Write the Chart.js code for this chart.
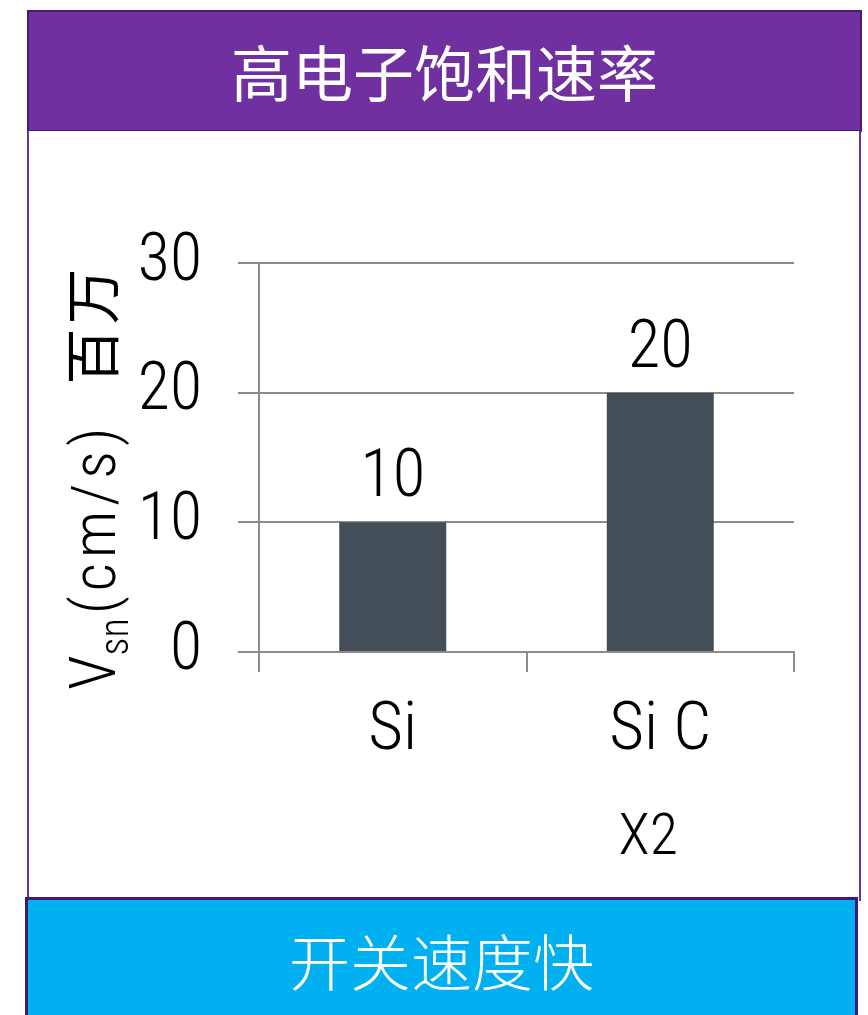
<!DOCTYPE html>
<html>
<head>
<meta charset="utf-8">
<script src="https://cdn.jsdelivr.net/npm/chart.js@4"></script>
<style>
  html, body { margin: 0; padding: 0; background: #fff; }
  body { width: 868px; height: 1015px; position: relative; overflow: hidden; }
  .hdr { position: absolute; left: 27px; top: 10px; width: 835px; height: 122px; box-sizing: border-box;
         background: #7030a0; border: 2px solid #4b1a7c; color: #fff;
         font-family: "Noto Sans CJK SC", sans-serif; font-size: 61px; line-height: 118px; text-align: center; }
  .panel { position: absolute; left: 27px; top: 131px; width: 834px; height: 770px; box-sizing: border-box;
           background: #fff; border-left: 2px solid #6b2f9e; border-right: 2px solid #6b2f9e; }
  .ftr { position: absolute; left: 25px; top: 897px; width: 833px; height: 130px; box-sizing: border-box;
         background: #00b0f0; border: 3px solid #3d1a78; color: #fff;
         font-family: "Noto Sans CJK SC", sans-serif; font-weight: 300; font-size: 61px; line-height: 132px; text-align: center; }
  canvas { position: absolute; left: 0; top: 0; }
</style>
</head>
<body>
<div class="hdr">高电子饱和速率</div>
<div class="panel"></div>
<div class="ftr"><span style="position:relative; top:-6px">开关速度快</span></div>
<canvas id="c" width="868" height="1015"></canvas>
<script>
const categories = ['Si', 'Si C'];
const values = [10, 20];
const valueLabels = ['10', '20'];
const yTickValues = [0, 10, 20, 30];
const extraLabel = 'X2';
const yTitleMain = 'V';
const yTitleSub = 'sn';
const yTitleUnit = '(cm/s)';
const yTitleScale = '百万';

const LAT = '"Roboto Condensed", Roboto, "Liberation Sans", sans-serif';
const CJK = '"Noto Sans CJK SC", sans-serif';
const GRID = '#8c8c8c';

const overlay = {
  id: 'overlay',
  afterDatasetsDraw(chart) {
    const ctx = chart.ctx;
    const meta = chart.getDatasetMeta(0);
    ctx.save();
    ctx.fillStyle = '#000';
    ctx.textAlign = 'center';
    ctx.textBaseline = 'alphabetic';
    ctx.font = '300 67px ' + LAT;
    meta.data.forEach((bar, i) => {
      ctx.fillText(valueLabels[i], bar.x, bar.y - 26);
    });
    // extra label under second category
    const xs = chart.scales.x;
    ctx.font = '300 58px ' + LAT;
    ctx.fillText(extraLabel, xs.getPixelForValue(1) - 12, 854);
    // rotated y title
    ctx.translate(115, 690);
    ctx.rotate(-Math.PI / 2);
    ctx.textAlign = 'left';
    let u = 0;
    ctx.font = '300 64px ' + LAT;
    ctx.fillText(yTitleMain, u, 0);
    u += ctx.measureText(yTitleMain).width;
    ctx.font = '300 40px ' + LAT;
    ctx.fillText(yTitleSub, u, 13);
    u += ctx.measureText(yTitleSub).width + 4;
    ctx.font = '300 62px ' + LAT;
    ctx.letterSpacing = '5px';
    ctx.fillText(yTitleUnit, u, 0);
    u += ctx.measureText(yTitleUnit).width;
    ctx.letterSpacing = '4px';
    ctx.font = '56px ' + CJK;
    ctx.fillText(yTitleScale, u + 38, -2);
    ctx.restore();
  }
};

new Chart(document.getElementById('c'), {
  type: 'bar',
  data: {
    labels: categories,
    datasets: [{
      data: values,
      backgroundColor: '#444e59',
      barPercentage: 0.4,
      categoryPercentage: 1.0
    }]
  },
  options: {
    responsive: false,
    animation: false,
    layout: { padding: { left: 0, right: 74, top: 263, bottom: 243 } },
    plugins: { legend: { display: false }, tooltip: { enabled: false } },
    scales: {
      y: {
        min: 0, max: 30,
        afterBuildTicks(s) { s.ticks = yTickValues.map(v => ({ value: v })); },
        afterFit(s) { s.width = 259; },
        ticks: { color: '#000', font: { family: LAT, size: 66, weight: 300 }, padding: 36 },
        grid: { color: GRID, lineWidth: 2, tickLength: 21, drawTicks: true },
        border: { display: true, color: GRID, width: 2 }
      },
      x: {
        afterFit(s) { s.height = 120; },
        ticks: { color: '#000', font: { family: LAT, size: 67, weight: 300 }, padding: 20 },
        grid: { offset: true, drawOnChartArea: false, color: GRID, lineWidth: 2, tickLength: 20 },
        border: { display: true, color: GRID, width: 2 }
      }
    }
  },
  plugins: [overlay]
});
</script>
</body>
</html>
